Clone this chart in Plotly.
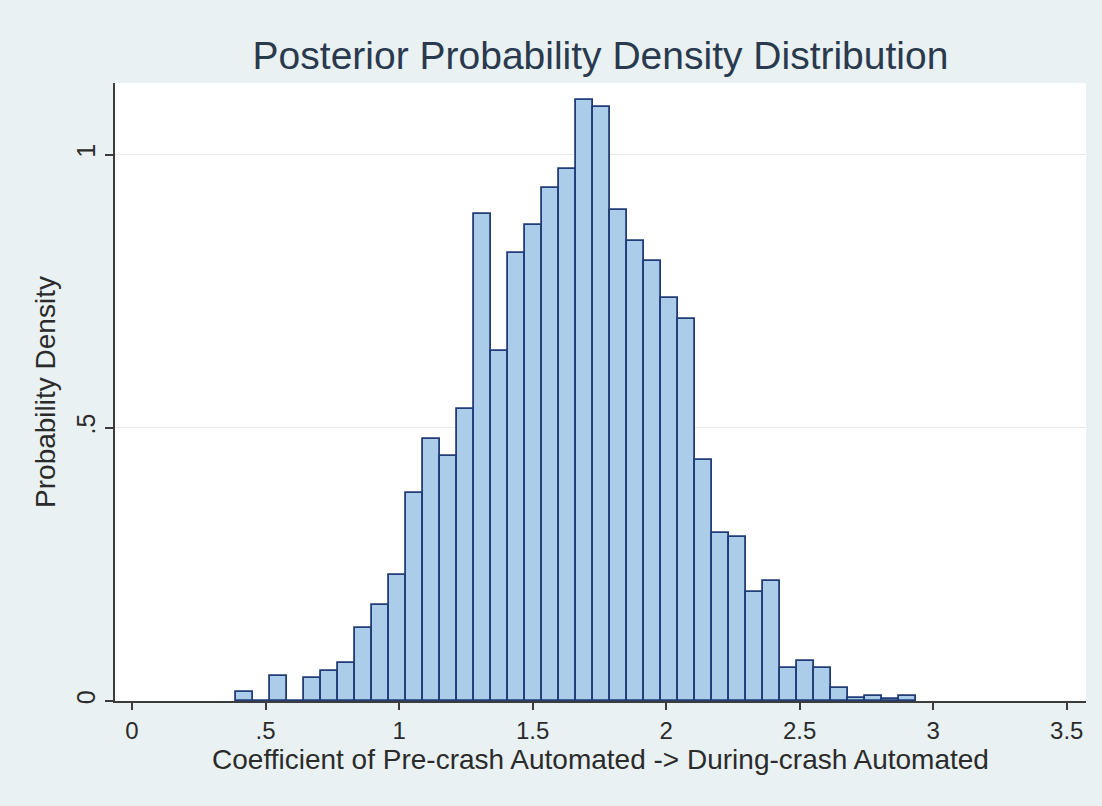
import plotly.graph_objects as go

# Histogram binning
bin_start = 0.389
bin_width = 0.0637
densities = [
    0.016, 0.0, 0.046, 0.0, 0.042, 0.055, 0.069, 0.134, 0.176, 0.231,
    0.380, 0.479, 0.449, 0.534, 0.891, 0.641, 0.819, 0.872, 0.938, 0.973,
    1.099, 1.087, 0.899, 0.841, 0.806, 0.737, 0.699, 0.441, 0.307, 0.300,
    0.199, 0.219, 0.061, 0.073, 0.061, 0.023, 0.006, 0.010, 0.004, 0.010,
]
bin_left = [bin_start + i * bin_width for i in range(len(densities))]

x_tickvals = [0, 0.5, 1, 1.5, 2, 2.5, 3, 3.5]
x_ticktext = ["0", ".5", "1", "1.5", "2", "2.5", "3", "3.5"]
y_tickvals = [0, 0.5, 1]
y_ticktext = ["0", ".5", "1"]

title_text = "Posterior Probability Density Distribution"
x_title = "Coefficient of Pre-crash Automated -> During-crash Automated"
y_title = "Probability Density"

FONT = "Liberation Sans, Arial, sans-serif"
TEXT = "#2b2b2b"

fig = go.Figure()
fig.add_trace(go.Bar(
    x=bin_left,
    y=densities,
    width=bin_width,
    offset=0,
    marker=dict(color="#abcdea", line=dict(color="#223c78", width=1.8)),
    showlegend=False,
))

fig.update_layout(
    width=1102,
    height=806,
    margin=dict(l=115, r=16, t=83, b=105),
    paper_bgcolor="#e9f1f3",
    plot_bgcolor="#ffffff",
    bargap=0,
    font=dict(family=FONT, color=TEXT),
    title=dict(
        text=title_text,
        x=0.5, xref="paper", xanchor="center",
        y=1 - 55 / 806, yref="container", yanchor="middle",
        font=dict(family=FONT, size=39, color="#2a3a4e"),
    ),
    xaxis=dict(
        range=[-0.0636, 3.572],
        tickvals=x_tickvals,
        ticktext=x_ticktext,
        ticks="outside",
        ticklen=7,
        tickwidth=1.5,
        tickcolor="#3c3c3c",
        showline=True,
        linecolor="#3c3c3c",
        linewidth=1.5,
        showgrid=False,
        zeroline=False,
        tickfont=dict(size=24, color=TEXT),
        title=dict(text=x_title, font=dict(size=28, color=TEXT), standoff=0),
    ),
    yaxis=dict(
        range=[0, 1.131],
        tickvals=y_tickvals,
        ticktext=y_ticktext,
        tickangle=-90,
        ticks="outside",
        ticklen=8,
        tickwidth=1.5,
        tickcolor="#3c3c3c",
        showline=True,
        linecolor="#3c3c3c",
        linewidth=1.5,
        showgrid=True,
        gridcolor="#e8eaea",
        gridwidth=1,
        zeroline=False,
        tickfont=dict(size=25, color=TEXT),
        title=dict(text=y_title, font=dict(size=28, color=TEXT), standoff=8),
    ),
)

fig.write_html("out.html")
